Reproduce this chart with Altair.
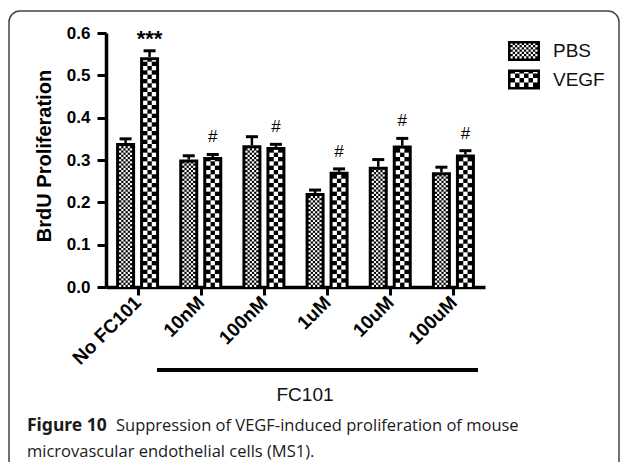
import altair as alt
import pandas as pd

# ---------------- data ----------------
categories = ["No FC101", "10nM", "100nM", "1uM", "10uM", "100uM"]
series = ["PBS", "VEGF"]
pbs_mean = [0.340, 0.301, 0.335, 0.222, 0.284, 0.271]
pbs_err = [0.010, 0.009, 0.020, 0.007, 0.017, 0.012]
vegf_mean = [0.543, 0.307, 0.331, 0.272, 0.334, 0.313]
vegf_err = [0.015, 0.006, 0.006, 0.007, 0.017, 0.009]
vegf_marks = ["***", "#", "#", "#", "#", "#"]
y_ticks = [0.0, 0.1, 0.2, 0.3, 0.4, 0.5, 0.6]
caption_bold = "Figure 10"
caption_line1 = "Suppression of VEGF-induced proliferation of mouse"
caption_line2 = "microvascular endothelial cells (MS1)."
group_label = "FC101"
y_title = "BrdU Proliferation"

# ---------------- geometry ----------------
W, H = 379, 254
YMAX = 0.6
PXX = W / len(categories)
PXY = H / YMAX
FONT = "Liberation Sans"
CAP_FONT = "Open Sans"
CAP_BOLD_FONT = "Noto Sans"

rows = []
for i, c in enumerate(categories):
    rows.append(dict(i=i, cat=c, series="PBS", value=pbs_mean[i], err=pbs_err[i], note=""))
    rows.append(dict(i=i, cat=c, series="VEGF", value=vegf_mean[i], err=vegf_err[i], note=vegf_marks[i]))
df = pd.DataFrame(rows)
leg = pd.DataFrame({"series": series, "k": list(range(len(series)))})

xscale = alt.Scale(domain=[-0.5, len(categories) - 0.5], nice=False, zero=False)
yscale = alt.Scale(domain=[0, YMAX], nice=False)

label_expr = "[" + ",".join("'%s'" % c for c in categories) + "][datum.value]"

xaxis = alt.Axis(
    values=list(range(len(categories))),
    labelExpr=label_expr,
    labelAngle=-45,
    labelAlign="right",
    labelBaseline="middle",
    title=None,
    grid=False,
    labelFontSize=19,
    labelFontWeight="bold",
    labelFont=FONT,
    labelColor="black",
    labelPadding=4,
    tickSize=8,
    tickWidth=3,
    tickColor="black",
    domainWidth=3.5,
    domainColor="black",
)
yaxis = alt.Axis(
    values=y_ticks,
    format=".1f",
    title=None,
    grid=False,
    labelFontSize=17,
    labelFontWeight="bold",
    labelFont=FONT,
    labelColor="black",
    labelPadding=7,
    tickSize=9,
    tickWidth=3,
    tickColor="black",
    domainWidth=3.5,
    domainColor="black",
)

base = alt.Chart(df).transform_calculate(
    sgn="datum.series == 'PBS' ? -1 : 1"
).transform_calculate(
    xc_px=f"(datum.i + 0.5) * {PXX} + datum.sgn * 12"
).transform_calculate(
    xc=f"datum.xc_px / {PXX} - 0.5",
    bx0=f"(datum.xc_px - 9.5) / {PXX} - 0.5",
    bx1=f"(datum.xc_px + 9.5) / {PXX} - 0.5",
    cx0=f"(datum.xc_px - 6) / {PXX} - 0.5",
    cx1=f"(datum.xc_px + 6) / {PXX} - 0.5",
    zero="0",
    ytop="datum.value + datum.err",
)


def X(field):
    return alt.X(field, type="quantitative", scale=xscale, axis=xaxis)


def Y(field):
    return alt.Y(field, type="quantitative", scale=yscale, axis=yaxis)


def pattern(chart):
    """white checker cells inside a box given in plot pixels (px0, px1, py0, py1, ncol)"""
    return (
        chart.transform_calculate(cw="(datum.px1 - datum.px0) / datum.ncol")
        .transform_calculate(
            rws="sequence(0, ceil((datum.py1 - datum.py0) / datum.cw))",
            cls="sequence(0, datum.ncol)",
        )
        .transform_flatten(["rws"], as_=["r"])
        .transform_flatten(["cls"], as_=["c"])
        .transform_filter("(datum.r + datum.c) % 2 == 0")
        .transform_calculate(
            xa=f"(datum.px0 + datum.c * datum.cw) / {PXX} - 0.5",
            xb=f"(datum.px0 + (datum.c + 1) * datum.cw) / {PXX} - 0.5",
            ya=f"(datum.py0 + datum.r * datum.cw) / {PXY}",
            yb=f"min(datum.py0 + (datum.r + 1) * datum.cw, datum.py1) / {PXY}",
        )
        .mark_rect(color="white", strokeWidth=0)
        .encode(x=X("xa:Q"), x2="xb:Q", y=Y("ya:Q"), y2="yb:Q")
    )


# frame
frame = alt.Chart(leg).transform_filter("datum.k == 0").mark_rect(
    filled=False, stroke="#444444", strokeWidth=1.5, cornerRadius=11
).encode(x=alt.value(-97), x2=alt.value(513), y=alt.value(-22), y2=alt.value(445))

# black bars
bars = base.mark_rect(color="black").encode(
    x=X("bx0:Q"), x2="bx1:Q", y=Y("zero:Q"), y2="value:Q"
)

bar_pat = pattern(
    base.transform_calculate(
        px0="datum.xc_px - 6.5",
        px1="datum.xc_px + 6.5",
        py0="0",
        py1=f"datum.value * {PXY} - 3",
        ncol="datum.series == 'PBS' ? 6 : 3",
    )
)

err_line = base.mark_rule(color="black", strokeWidth=2.5).encode(
    x=X("xc:Q"), y=Y("value:Q"), y2="ytop:Q"
)
err_cap = base.mark_rule(color="black", strokeWidth=3).encode(
    x=X("cx0:Q"), x2="cx1:Q", y=Y("ytop:Q")
)

stars = base.transform_filter("datum.note == '***'").mark_text(
    font=FONT, fontSize=22, fontWeight="bold", color="black", baseline="middle", dy=-12
).encode(x=X("xc:Q"), y=Y("ytop:Q"), text="note:N")
hashes = base.transform_filter("datum.note == '#'").mark_text(
    font=FONT, fontSize=17, color="black", baseline="middle", dy=-17
).encode(x=X("xc:Q"), y=Y("ytop:Q"), text="note:N")

# legend
lbase = alt.Chart(leg).transform_calculate(
    top_px="8 + 28.5 * datum.k",
).transform_calculate(
    lx0=f"402 / {PXX} - 0.5",
    lx1=f"434 / {PXX} - 0.5",
    ly0=f"({H} - datum.top_px - 20) / {PXY}",
    ly1=f"({H} - datum.top_px) / {PXY}",
    tx=f"447 / {PXX} - 0.5",
    ty=f"({H} - datum.top_px - 10) / {PXY}",
)
leg_box = lbase.mark_rect(color="black").encode(
    x=X("lx0:Q"), x2="lx1:Q", y=Y("ly0:Q"), y2="ly1:Q"
)
leg_pat = pattern(
    lbase.transform_calculate(
        px0="404.5",
        px1="431.5",
        py0=f"{H} - datum.top_px - 20 + 2.5",
        py1=f"{H} - datum.top_px - 2.5",
        ncol="datum.series == 'PBS' ? 12 : 6",
    )
)
leg_txt = lbase.mark_text(
    font=FONT, fontSize=19, color="#111111", align="left", baseline="middle"
).encode(x=X("tx:Q"), y=Y("ty:Q"), text="series:N")

# axis title, group line, captions
one = alt.Chart(leg).transform_filter("datum.k == 0")
ytitle = one.mark_text(
    text=y_title, font=FONT, fontSize=20, fontWeight="bold", angle=270,
    align="center", baseline="middle", color="black",
).encode(x=alt.value(-61), y=alt.value(123))

grp_line = one.mark_rule(color="black", strokeWidth=4).encode(
    x=alt.value(51), x2=alt.value(372), y=alt.value(337)
)
grp_txt = one.mark_text(
    text=group_label, font=FONT, fontSize=19, color="#111111", align="center", baseline="middle"
).encode(x=alt.value(199), y=alt.value(362))

cap_b = one.mark_text(
    text=caption_bold, font=CAP_BOLD_FONT, fontSize=17.5, fontWeight="bold", color="#1a1a1a",
    align="left", baseline="alphabetic",
).encode(x=alt.value(-79), y=alt.value(398))
cap_1 = one.mark_text(
    text=caption_line1, font=CAP_FONT, fontSize=16.5, color="#1a1a1a",
    align="left", baseline="alphabetic",
).encode(x=alt.value(10), y=alt.value(398))
cap_2 = one.mark_text(
    text=caption_line2, font=CAP_FONT, fontSize=16.5, color="#1a1a1a",
    align="left", baseline="alphabetic",
).encode(x=alt.value(-79), y=alt.value(424))

chart = alt.layer(
    frame, bars, bar_pat, err_line, err_cap, stars, hashes,
    leg_box, leg_pat, leg_txt, ytitle, grp_line, grp_txt, cap_b, cap_1, cap_2,
).properties(
    width=W,
    height=H,
    autosize="none",
    padding={"left": 98, "top": 25, "right": 136, "bottom": 175},
    background="white",
).configure_view(stroke=None)

chart.save("out.html", embed_options={"renderer": "svg", "actions": False})
